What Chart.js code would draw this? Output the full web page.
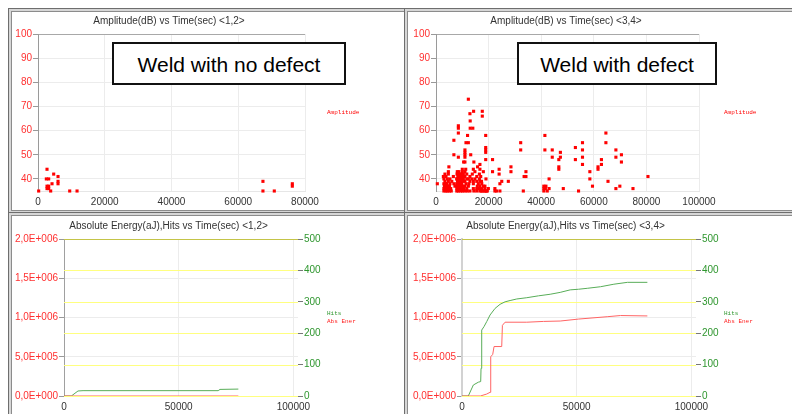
<!DOCTYPE html>
<html>
<head>
<meta charset="utf-8">
<script src="https://cdn.jsdelivr.net/npm/chart.js@4.4.0/dist/chart.umd.min.js"></script>
<style>
  html, body { margin: 0; padding: 0; background: #fff; }
  #wrap { position: relative; width: 792px; height: 414px; overflow: hidden; background: #fff; }
  .panel {
    position: absolute; box-sizing: border-box; background: #fff;
    border: 1px solid #6e6e6e;
    box-shadow: inset 0 0 0 2px #d6d6d6, inset 0 0 0 3px #8c8c8c;
  }
  canvas { position: absolute; }
  .note {
    position: absolute; box-sizing: border-box; border: 2px solid #111; background: #fff;
    font: 21px "Liberation Sans", Arial, sans-serif; color: #000;
    display: flex; align-items: center; justify-content: center; padding-top: 3px;
  }
</style>
</head>
<body>
<div id="wrap">
  <div class="panel" style="left:8px;top:8px;width:400px;height:206px"></div>
  <div class="panel" style="left:404px;top:8px;width:400px;height:206px"></div>
  <div class="panel" style="left:8px;top:212px;width:400px;height:210px"></div>
  <div class="panel" style="left:404px;top:212px;width:400px;height:210px"></div>
  <canvas id="ampNoDefect" width="392" height="199" style="left:12px;top:12px"></canvas>
  <canvas id="ampDefect" width="383" height="199" style="left:409px;top:12px"></canvas>
  <canvas id="energyNoDefect" width="392" height="197" style="left:12px;top:217px"></canvas>
  <canvas id="energyDefect" width="383" height="197" style="left:409px;top:217px"></canvas>
  <div class="note" style="left:112px;top:42px;width:234px;height:43px">Weld with no defect</div>
  <div class="note" style="left:517px;top:42px;width:200px;height:43px">Weld with defect</div>
</div>
<script>
"use strict";

// amplitude hits, weld without defect (time in s, amplitude in dB)
const noDefectTime = [200, 2700, 2500, 3200, 2700, 3200, 2700, 3200, 3800, 4200, 4700, 6000, 6000, 6000,
  9500, 11700, 67400, 67400, 70800, 76200, 76200];
const noDefectAmp = [35, 44, 40, 40, 37, 37, 36, 36, 35, 38, 42, 41, 39, 38,
  35, 35, 39, 35, 35, 38, 37];

// amplitude hits, weld with defect: scattered hits
const defectTime = [
  500, 12300, 12900, 14300, 17600, 17600, 13000, 13000, 14000, 8500,
  8500, 8500, 6800, 12000, 18900, 11400, 12300, 18900, 18900, 18900,
  6800, 8500, 11000, 11000, 11000, 11000, 13200, 18900, 21500, 10500,
  11000, 14400, 16700, 4900, 15800, 28500, 28500, 32200, 32200, 41400,
  41400, 44200, 44200, 47300, 47300, 46700, 46700, 46700, 53000, 53000,
  55700, 55700, 55700, 55700, 58500, 58500, 59500, 61600, 61600, 62900,
  62900, 64600, 64600, 65400, 68400, 68400, 70500, 70500, 69900, 68400,
  74900, 80600, 54200, 48400, 43000, 43000, 41000, 41000, 41800, 41600,
  42300, 41000, 33200, 33500, 34200, 34200, 27500, 25000, 24300, 24000,
  24000, 22400, 23000, 21500, 17300, 17300, 18600, 19200, 19000,
  8000, 8300, 8700, 9000, 9300, 9600, 8200, 8800, 9200, 3200,
  3600, 4000, 4400, 4600, 3300, 3600, 8000, 9500, 8100, 9000
];
const defectAmp = [
  38, 73, 67, 68, 68, 66, 64, 61, 61, 62,
  61, 59, 56, 58, 58, 55, 55, 53, 52, 51,
  50, 49, 52, 51, 50, 49, 50, 48, 48, 47,
  47, 47, 46, 45, 45, 45, 43, 55, 52, 58,
  52, 52, 49, 51, 49, 48, 45, 44, 53, 48,
  55, 52, 49, 46, 43, 40, 37, 45, 44, 48,
  46, 59, 55, 39, 52, 49, 50, 47, 37, 36,
  36, 41, 35, 36, 40, 36, 37, 36, 37, 36,
  35, 35, 35, 41, 41, 43, 39, 39, 38, 44,
  42, 36, 35, 43, 39, 35, 35, 35, 40,
  42, 41, 43, 42, 40, 41, 39, 38, 37, 37,
  36, 38, 37, 36, 36, 38, 40, 39, 37, 36
];
// dense cluster of the defect weld, one amplitude level per row
const denseLevels = [44, 43, 42, 41, 40, 39, 38, 37, 36, 35];
const denseTimes = [
  [10000, 11300, 14200, 16700],
  [4700, 8100, 10000, 11000, 14800, 18000],
  [3400, 4700, 8500, 9400, 10400, 11700, 13800, 16500],
  [2800, 3800, 6600, 8900, 9800, 10400, 11000, 12900, 15500, 17000],
  [3000, 4300, 5300, 7900, 8500, 9100, 9800, 10400, 11700, 12300, 13600, 14800, 16500],
  [3400, 4700, 6000, 8500, 9400, 10400, 11000, 12900, 14200, 15500, 16700],
  [3000, 3800, 5300, 6800, 7900, 8900, 9800, 11400, 12500, 14200, 16100, 17400],
  [3400, 4100, 5100, 7200, 8900, 10100, 11000, 12300, 15700, 16700, 18000, 18600],
  [3000, 3800, 4700, 5600, 7900, 8500, 9800, 10600, 11700, 14200, 15500, 16500, 17400, 18600, 19900],
  [3000, 3800, 4300, 5100, 5800, 7900, 8500, 9400, 10100, 11000, 11900, 12900, 14400, 15500, 16700,
    17700, 18600, 19500, 22400, 24300]
];

// cumulative hits and absolute energy
const noDefectHitsTime = [0, 3200, 6100, 8300, 67200, 68000, 76000];
const noDefectHits = [0, 0, 16, 17, 17, 21, 22];
const noDefectEnergyTime = [0, 76000];
const noDefectEnergy = [0, 0];

const defectHitsTime = [0, 2750, 4940, 7130, 8150, 8300, 8590, 9600, 10780, 12230, 14410, 16590, 18780,
  20960, 23870, 28240, 33330, 38430, 42790, 47160, 50800, 54600, 60400, 66200, 72100, 80800];
const defectHits = [0, 0, 35, 44, 46, 88, 210, 221, 237, 258, 279, 292, 300,
  304, 309, 313, 319, 324, 330, 338, 340, 343, 348, 356, 362, 362];
const defectEnergyTime = [0, 8000, 10780, 12230, 12520, 13390, 13970, 17320, 17610, 18780, 28240,
  35520, 42790, 50800, 63300, 69100, 80800];
const defectEnergy = [0, 0, 25000, 47000, 500000, 530000, 630000, 630000, 900000, 940000, 940000,
  950000, 955000, 980000, 1010000, 1025000, 1020000];

const amplitudeTicks = [40, 50, 60, 70, 80, 90, 100];
const hitsTicks = [0, 100, 200, 300, 400, 500];

const FONT = "'Liberation Sans', Arial, sans-serif";
const RED = "#ff3030";
const GREEN = "#2e962e";

const toPoints = (xs, ys) => xs.map((x, i) => ({ x: x, y: ys[i] }));

function sciLabel(v) {
  if (v === 0) return "0,0E+000";
  const exp = Math.floor(Math.log10(v));
  const mant = v / Math.pow(10, exp);
  return mant.toFixed(1).replace(".", ",") + "E+" + String(exp).padStart(3, "0");
}

// title centred over the panel and the tiny legend at the right
const panelText = {
  id: "panelText",
  afterDraw(chart, args, opts) {
    const ctx = chart.ctx;
    ctx.save();
    ctx.font = "10px " + FONT;
    ctx.fillStyle = "#333";
    ctx.textAlign = "center";
    ctx.textBaseline = "middle";
    ctx.fillText(opts.title, opts.titleX, opts.titleY);
    ctx.font = "6px 'Liberation Mono', monospace";
    ctx.textAlign = "left";
    chart.data.datasets.forEach((ds, i) => {
      ctx.fillStyle = ds.legendColor;
      ctx.fillText(ds.label, opts.legendX, opts.legendY + i * 8);
    });
    ctx.restore();
  }
};

// yellow grid of the hits axis, drawn across the plot area
const hitsGrid = {
  id: "hitsGrid",
  beforeDatasetsDraw(chart) {
    const scale = chart.scales.yHits;
    const area = chart.chartArea;
    const ctx = chart.ctx;
    ctx.save();
    ctx.lineWidth = 1;
    hitsTicks.forEach(v => {
      const y = Math.round(scale.getPixelForValue(v)) + 0.5;
      ctx.strokeStyle = v === 500 ? "#c4c448" : "#ffff80";
      ctx.beginPath();
      ctx.moveTo(area.left, y);
      ctx.lineTo(area.right, y);
      ctx.stroke();
    });
    ctx.restore();
  }
};

function amplitudeChart(id, points, xMax, yWidth, padRight, title) {
  return new Chart(document.getElementById(id), {
    type: "scatter",
    data: {
      datasets: [{
        label: "Amplitude",
        legendColor: "#ff0000",
        data: points,
        pointStyle: "rect",
        pointRadius: 2.2,
        pointBorderWidth: 0,
        backgroundColor: "#ff0000",
        clip: false
      }]
    },
    options: {
      responsive: false,
      animation: false,
      layout: { padding: { top: 22, right: padRight, left: 0, bottom: 0 } },
      plugins: {
        legend: { display: false },
        tooltip: { enabled: false },
        panelText: { title: title, titleX: 157, titleY: 9, legendX: 315, legendY: 100 }
      },
      scales: {
        x: {
          type: "linear", min: 0, max: xMax,
          afterFit: s => { s.height = 20; },
          ticks: { stepSize: 20000, color: "#333", font: { size: 10, family: FONT }, padding: 5,
            maxRotation: 0, callback: v => String(v) },
          grid: { color: "#ececec", drawTicks: false },
          border: { color: "#e6e6e6" }
        },
        y: {
          min: 35, max: 100,
          afterFit: s => { s.width = yWidth; },
          afterBuildTicks: s => { s.ticks = amplitudeTicks.map(v => ({ value: v })); },
          ticks: { color: RED, font: { size: 10, family: FONT }, padding: 1 },
          grid: { color: c => (c.tick && c.tick.value === 100 ? "#a8a8a8" : "#ececec"),
            tickColor: "#999", tickLength: 5 },
          border: { color: "#9a9a9a" }
        }
      }
    },
    plugins: [panelText]
  });
}

function energyChart(id, hitsPts, energyPts, yWidth, padRight, axisStyle, title) {
  return new Chart(document.getElementById(id), {
    type: "line",
    data: {
      datasets: [
        { label: "Hits", legendColor: "#2e962e", data: hitsPts, yAxisID: "yHits",
          borderColor: "#58ad58", borderWidth: 1, pointRadius: 0, tension: 0, order: 1 },
        { label: "Abs Ener", legendColor: "#ff2020", data: energyPts, yAxisID: "yEnergy",
          borderColor: "#ff6464", borderWidth: 1, pointRadius: 0, tension: 0, order: 0 }
      ]
    },
    options: {
      responsive: false,
      animation: false,
      layout: { padding: { top: 22, right: padRight, left: 0, bottom: 0 } },
      plugins: {
        legend: { display: false },
        tooltip: { enabled: false },
        panelText: { title: title, titleX: 156.5, titleY: 9, legendX: 315, legendY: 96 }
      },
      scales: {
        x: {
          type: "linear", min: 0, max: 102000,
          afterFit: s => { s.height = 18; },
          afterBuildTicks: s => { s.ticks = [0, 50000, 100000].map(v => ({ value: v })); },
          ticks: { color: "#333", font: { size: 10, family: FONT }, padding: 5,
            maxRotation: 0, callback: v => String(v) },
          grid: { color: "#ececec", drawTicks: false },
          border: { display: false }
        },
        yEnergy: {
          position: "left", min: 0, max: 2000000,
          afterFit: s => { s.width = yWidth; },
          ticks: { stepSize: 500000, color: RED, font: { size: 10, family: FONT }, padding: 1,
            callback: v => sciLabel(v) },
          grid: {
            color: c => {
              if (!c.tick) return "#ececec";
              if (c.tick.value === 2000000 || c.tick.value === 0) return "rgba(0,0,0,0)";
              return "#ececec";
            },
            tickColor: "#999", tickLength: 5
          },
          border: axisStyle
        },
        yHits: {
          position: "right", min: 0, max: 500,
          afterFit: s => { s.width = 35; },
          afterBuildTicks: s => { s.ticks = hitsTicks.map(v => ({ value: v })); },
          ticks: { color: GREEN, font: { size: 10, family: FONT }, padding: 1 },
          grid: { drawOnChartArea: false, tickColor: "#777", tickLength: 5 },
          border: { display: false }
        }
      }
    },
    plugins: [hitsGrid, panelText]
  });
}

const denseX = [];
const denseY = [];
denseLevels.forEach((level, i) => {
  denseTimes[i].forEach(t => { denseX.push(t); denseY.push(level); });
});

amplitudeChart("ampNoDefect", toPoints(noDefectTime, noDefectAmp), 80000, 26, 99,
  "Amplitude(dB) vs Time(sec) <1,2>");
amplitudeChart("ampDefect", toPoints(defectTime.concat(denseX), defectAmp.concat(denseY)), 100000, 27, 93,
  "Amplitude(dB) vs Time(sec) <3,4>");
energyChart("energyNoDefect", toPoints(noDefectHitsTime, noDefectHits),
  toPoints(noDefectEnergyTime, noDefectEnergy), 52, 71, { color: "#a0a0a0", width: 1 },
  "Absolute Energy(aJ),Hits vs Time(sec) <1,2>");
energyChart("energyDefect", toPoints(defectHitsTime, defectHits),
  toPoints(defectEnergyTime, defectEnergy), 53, 61, { color: "#d2d2d2", width: 2 },
  "Absolute Energy(aJ),Hits vs Time(sec) <3,4>");
</script>
</body>
</html>
